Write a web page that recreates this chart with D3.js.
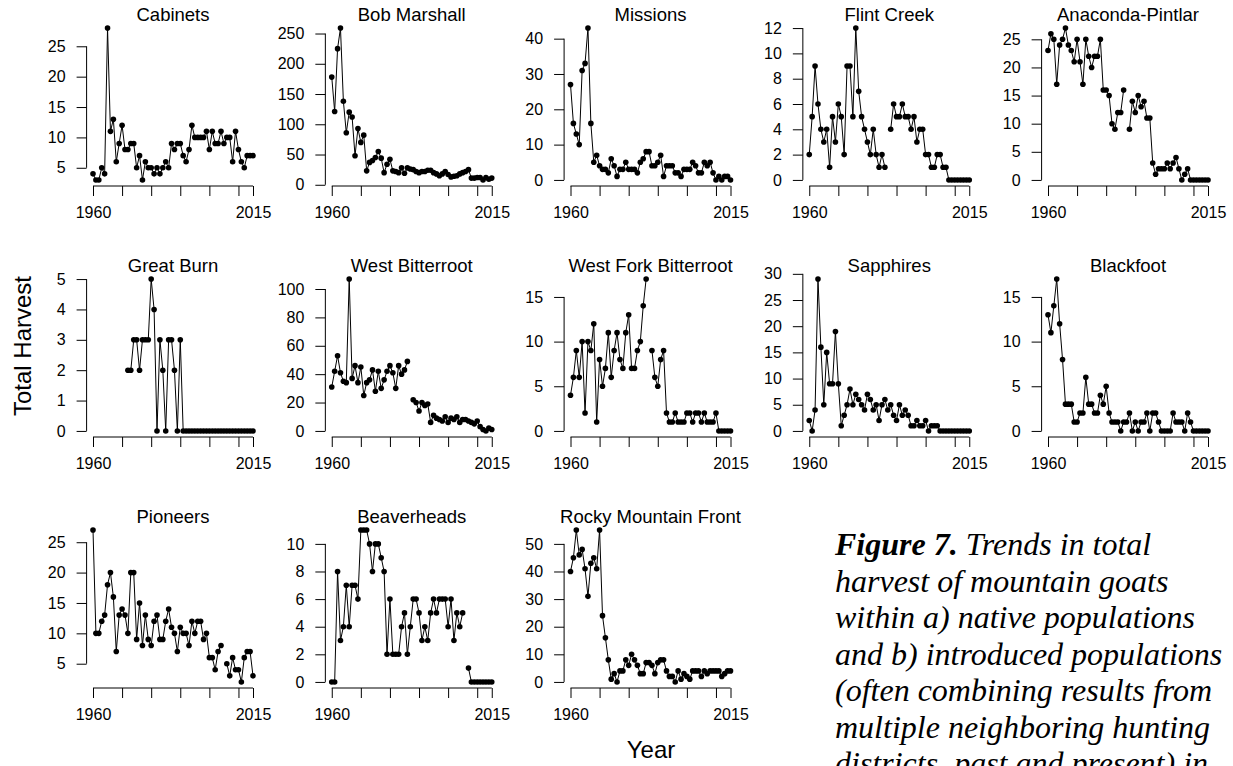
<!DOCTYPE html>
<html lang="en">
<head>
<meta charset="utf-8">
<style>
html, body {
    margin: 0;
    padding: 0;
    background: white;
}

svg {
    display: block;
    font-family: Arial, "Liberation Sans", sans-serif;
}

.caption {
    font-family: "Times New Roman", "Liberation Serif", serif;
    font-style: italic;
    font-size: 32px;
}
</style>
</head>
<body>
<div id="stage"></div>

<script src="https://cdn.jsdelivr.net/npm/d3@7/dist/d3.min.js"></script>
<script>

// years 1960-2015, one value per year (null = no data)
var years = [1960,1961,1962,1963,1964,1965,1966,1967,1968,1969,
             1970,1971,1972,1973,1974,1975,1976,1977,1978,1979,
             1980,1981,1982,1983,1984,1985,1986,1987,1988,1989,
             1990,1991,1992,1993,1994,1995,1996,1997,1998,1999,
             2000,2001,2002,2003,2004,2005,2006,2007,2008,2009,
             2010,2011,2012,2013,2014,2015];

var titles = ["Cabinets", "Bob Marshall", "Missions", "Flint Creek", "Anaconda-Pintlar",
              "Great Burn", "West Bitterroot", "West Fork Bitterroot", "Sapphires", "Blackfoot",
              "Pioneers", "Beaverheads", "Rocky Mountain Front"];

var cabinets = [4,3,3,5,4,28,11,13,6,9,12,8,8,9,9,5,7,3,6,5,5,4,5,4,5,6,5,9,8,9,
                9,7,6,8,12,10,10,10,10,11,8,11,9,9,11,9,10,10,6,11,8,6,5,7,7,7];
var bobMarshall = [178,121,225,259,138,86,120,112,48,93,70,82,23,37,40,45,55,44,20,34,
                   42,23,22,20,28,19,28,26,25,22,20,22,22,24,24,20,18,15,18,22,
                   17,13,14,15,18,20,22,25,11,11,12,12,8,12,9,11];
var missions = [27,16,13,10,31,33,43,16,5,7,4,3,3,2,6,4,1,3,3,5,3,3,3,2,5,6,8,8,4,4,
                5,7,1,4,4,4,2,2,1,3,3,3,5,4,2,2,5,4,5,2,0,1,0,1,1,0];
var flintCreek = [2,5,9,6,4,3,4,1,5,3,6,5,2,9,9,5,12,7,5,4,3,2,4,2,1,2,1,null,4,6,
                  5,5,6,5,5,4,5,3,4,4,2,2,1,1,2,2,1,1,0,0,0,0,0,0,0,0];
var anacondaPintlar = [23,26,25,17,24,25,27,24,23,21,25,21,17,25,22,20,22,22,25,16,
                       16,15,10,9,12,12,16,null,9,14,12,15,13,14,11,11,3,1,2,2,
                       2,3,2,3,4,2,0,1,2,0,0,0,0,0,0,0];
var greatBurn = [null,null,null,null,null,null,null,null,null,null,null,null,
                 2,2,3,3,2,3,3,3,5,4,0,3,2,0,3,3,2,0,3,0,
                 0,0,0,0,0,0,0,0,0,0,0,0,0,0,0,0,0,0,0,0,0,0,0,0];
var westBitterroot = [31,42,53,41,35,34,107,37,46,34,45,25,34,36,43,28,42,30,36,42,
                      46,41,30,46,40,43,49,null,22,20,14,20,18,19,6,11,9,8,7,10,
                      6,9,8,10,6,8,8,7,6,5,7,3,1,0,2,1];
var westForkBitterroot = [4,6,9,6,10,2,10,9,12,1,8,5,7,11,6,9,11,8,7,11,13,7,7,9,10,14,17,null,9,6,
                          5,8,9,2,1,1,2,1,1,1,2,2,1,2,2,1,2,1,1,1,2,0,0,0,0,0];
var sapphires = [2,0,4,29,16,5,15,9,9,19,9,1,3,5,8,5,7,6,5,4,7,6,4,5,2,5,6,4,5,3,
                 2,5,3,4,3,1,1,2,1,1,2,0,1,1,1,0,0,0,0,0,0,0,0,0,0,0];
var blackfoot = [13,11,14,17,12,8,3,3,3,1,1,2,2,6,3,3,2,2,4,3,5,2,1,1,1,0,1,1,2,0,
                 1,0,1,1,2,0,2,2,1,0,0,0,0,2,1,1,1,0,2,1,0,0,0,0,0,0];
var pioneers = [27,10,10,12,13,18,20,16,7,13,14,13,10,20,20,9,15,8,13,9,8,12,13,9,9,12,14,11,10,7,
                11,10,10,8,12,10,12,12,9,10,6,6,4,7,8,null,5,3,6,4,4,2,6,7,7,3];
var beaverheads = [0,0,8,3,4,7,4,7,7,6,11,11,11,10,8,10,10,9,8,2,6,2,2,2,4,5,2,4,6,6,
                   5,3,4,3,5,6,5,6,6,6,4,6,3,5,4,5,null,1,0,0,0,0,0,0,0,0];
var rockyMountainFront = [40,45,55,46,48,41,31,43,45,41,55,24,16,8,1,3,0,4,4,8,6,10,8,6,3,3,7,7,6,3,
                          7,8,8,4,2,2,0,4,1,3,2,1,4,4,4,2,4,3,4,4,4,4,2,3,4,4];

// y tick values per panel
var cabinetsTicks = [5,10,15,20,25];
var bobMarshallTicks = [0,50,100,150,200,250];
var missionsTicks = [0,10,20,30,40];
var flintCreekTicks = [0,2,4,6,8,10,12];
var anacondaPintlarTicks = [0,5,10,15,20,25];
var greatBurnTicks = [0,1,2,3,4,5];
var westBitterrootTicks = [0,20,40,60,80,100];
var westForkBitterrootTicks = [0,5,10,15];
var sapphiresTicks = [0,5,10,15,20,25,30];
var blackfootTicks = [0,5,10,15];
var pioneersTicks = [5,10,15,20,25];
var beaverheadsTicks = [0,2,4,6,8,10];
var rockyMountainFrontTicks = [0,10,20,30,40,50];

var xTickYears = [1960,1970,1980,1990,2000,2010,2015];
var xTickLabels = ["1960","","","","","","2015"];

var captionLines = ["Trends in total",
                    "harvest of mountain goats",
                    "within a) native populations",
                    "and b) introduced populations",
                    "(often combining results from",
                    "multiple neighboring hunting",
                    "districts, past and present) in"];

var panels = [
    {title: titles[0], values: cabinets, ticks: cabinetsTicks},
    {title: titles[1], values: bobMarshall, ticks: bobMarshallTicks},
    {title: titles[2], values: missions, ticks: missionsTicks},
    {title: titles[3], values: flintCreek, ticks: flintCreekTicks},
    {title: titles[4], values: anacondaPintlar, ticks: anacondaPintlarTicks},
    {title: titles[5], values: greatBurn, ticks: greatBurnTicks},
    {title: titles[6], values: westBitterroot, ticks: westBitterrootTicks},
    {title: titles[7], values: westForkBitterroot, ticks: westForkBitterrootTicks},
    {title: titles[8], values: sapphires, ticks: sapphiresTicks},
    {title: titles[9], values: blackfoot, ticks: blackfootTicks},
    {title: titles[10], values: pioneers, ticks: pioneersTicks},
    {title: titles[11], values: beaverheads, ticks: beaverheadsTicks},
    {title: titles[12], values: rockyMountainFront, ticks: rockyMountainFrontTicks}
];

// layout (R style par(mfrow=c(3,5)))
var colX0 = 93, colStep = 238.75, rowStep = 251;
var plotTop = 22, plotBottom = 186, xSpan = 160;

var svg = d3.select("#stage").append("svg")
    .attr("width", 1233)
    .attr("height", 766);

panels.forEach(function(p, i){

    var col = i % 5, row = Math.floor(i / 5);
    var x0 = colX0 + col * colStep;
    var top = plotTop + row * rowStep, bottom = plotBottom + row * rowStep;

    var xScale = d3.scaleLinear()
        .domain([1960, 2015])
        .range([x0, x0 + xSpan]);

    // 4% padding like R's xaxs/yaxs="r"
    var lo = d3.min(p.values), hi = d3.max(p.values);
    var pad = (hi - lo) * 0.04;
    var yScale = d3.scaleLinear()
        .domain([lo - pad, hi + pad])
        .range([bottom, top]);

    var leftEdge = xScale(1960 - 55 * 0.04);
    var rightEdge = xScale(2015 + 55 * 0.04);

    var g = svg.append("g");

    var xAxis = d3.axisBottom(xScale)
        .tickValues(xTickYears)
        .tickFormat(function(d){ return xTickLabels[xTickYears.indexOf(d)]; })
        .tickSize(10)
        .tickPadding(11)
        .tickSizeOuter(0);

    var gx = g.append("g")
        .attr("transform", "translate(0," + bottom + ")")
        .call(xAxis);
    gx.select(".domain").remove();
    gx.append("line")
        .attr("x1", xScale(xTickYears[0]))
        .attr("x2", xScale(xTickYears[xTickYears.length - 1]))
        .attr("stroke", "black");

    var yAxis = d3.axisLeft(yScale)
        .tickValues(p.ticks)
        .tickFormat(d3.format("d"))
        .tickSize(10)
        .tickPadding(11)
        .tickSizeOuter(0);

    var gy = g.append("g")
        .attr("transform", "translate(" + leftEdge + ",0)")
        .call(yAxis);
    gy.select(".domain").remove();
    gy.append("line")
        .attr("y1", yScale(p.ticks[0]))
        .attr("y2", yScale(p.ticks[p.ticks.length - 1]))
        .attr("stroke", "black");

    g.selectAll(".tick line").attr("stroke", "black");
    g.selectAll(".tick text")
        .attr("fill", "black")
        .style("font-family", "Arial, 'Liberation Sans', sans-serif")
        .style("font-size", "16px");

    g.append("text")
        .attr("x", (leftEdge + rightEdge) / 2)
        .attr("y", top - 1)
        .attr("text-anchor", "middle")
        .style("font-size", "18.5px")
        .text(p.title);

    var pts = years.map(function(y, k){ return {year: y, value: p.values[k]}; });

    var line = d3.line()
        .defined(function(d){ return d.value !== null; })
        .x(function(d){ return xScale(d.year); })
        .y(function(d){ return yScale(d.value); });

    g.append("path")
        .datum(pts)
        .attr("d", line)
        .attr("fill", "none")
        .attr("stroke", "black")
        .attr("stroke-width", 1);

    g.selectAll("circle")
        .data(pts.filter(function(d){ return d.value !== null; }))
        .enter()
        .append("circle")
        .attr("cx", function(d){ return xScale(d.year); })
        .attr("cy", function(d){ return yScale(d.value); })
        .attr("r", 2.8)
        .attr("fill", "black");
});

// outer axis labels
svg.append("text")
    .attr("transform", "translate(31,346) rotate(-90)")
    .attr("text-anchor", "middle")
    .style("font-size", "24px")
    .text("Total Harvest");

svg.append("text")
    .attr("x", 651)
    .attr("y", 758)
    .attr("text-anchor", "middle")
    .style("font-size", "24px")
    .text("Year");

// figure caption
var cap = svg.append("text")
    .attr("class", "caption")
    .attr("x", 835)
    .attr("y", 555);

cap.selectAll("tspan")
    .data(captionLines)
    .enter()
    .append("tspan")
    .attr("x", 835)
    .attr("dy", function(d, i){ return i == 0 ? 0 : 36.5; })
    .each(function(d, i){
        var t = d3.select(this);
        if (i == 0) {
            t.append("tspan").style("font-weight", "bold").text("Figure 7.");
            t.append("tspan").text(" " + d);
        } else {
            t.text(d);
        }
    });

</script>

</body>
</html>
